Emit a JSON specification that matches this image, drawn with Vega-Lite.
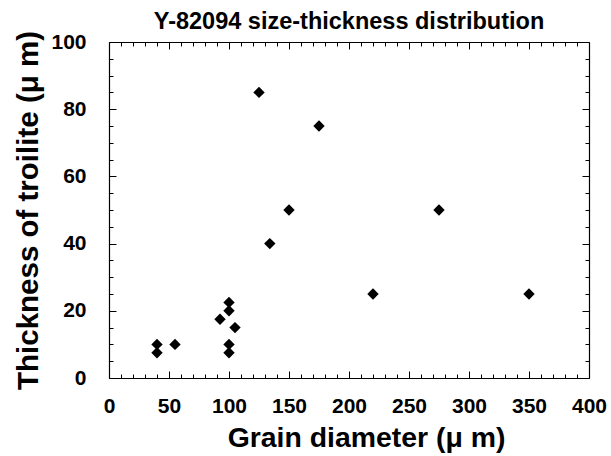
{
  "$schema": "https://vega.github.io/schema/vega-lite/v6.json",
  "autosize": "none",
  "width": 480,
  "height": 336,
  "padding": {"left": 109, "top": 42, "right": 22, "bottom": 78},
  "background": "white",
  "title": {"text": "Y-82094 size-thickness distribution", "font": "Liberation Sans", "fontSize": 23.5, "fontWeight": "bold", "color": "black", "anchor": "middle", "offset": -3},
  "config": {
    "view": {"stroke": null},
    "axis": {"domainColor": "black", "tickColor": "black", "grid": false, "labelFont": "Liberation Sans", "titleFont": "Liberation Sans", "labelColor": "black", "titleColor": "black", "domainWidth": 1.2, "tickWidth": 1}
  },
  "data": {"values": [
    {"d": 40, "t": 10},
    {"d": 40, "t": 7.5},
    {"d": 55, "t": 10},
    {"d": 92.5, "t": 17.5},
    {"d": 100, "t": 22.5},
    {"d": 100, "t": 20},
    {"d": 100, "t": 10},
    {"d": 100, "t": 7.5},
    {"d": 105, "t": 15},
    {"d": 125, "t": 85},
    {"d": 134, "t": 40},
    {"d": 150, "t": 50},
    {"d": 175, "t": 75},
    {"d": 220, "t": 25},
    {"d": 275, "t": 50},
    {"d": 350, "t": 25}
  ]},
  "resolve": {"axis": {"x": "independent", "y": "independent"}},
  "layer": [
    {
      "mark": {"type": "point", "shape": "diamond", "filled": true, "color": "black", "opacity": 1, "size": 130},
      "encoding": {
        "x": {"field": "d", "type": "quantitative", "scale": {"domain": [0, 400], "nice": false},
          "axis": {"orient": "bottom", "values": [0, 50, 100, 150, 200, 250, 300, 350, 400], "tickSize": -7, "labelPadding": 24, "labelFontSize": 21, "labelFontWeight": "bold", "labelFlush": false, "title": "Grain diameter (μ m)", "titleFontSize": 28.4, "titleFontWeight": "bold", "titlePadding": 8, "titleX": 257, "titleAlign": "center"}},
        "y": {"field": "t", "type": "quantitative", "scale": {"domain": [0, 100], "nice": false},
          "axis": {"orient": "left", "values": [0, 20, 40, 60, 80, 100], "tickSize": -7, "labelPadding": 30, "labelFontSize": 21, "labelFontWeight": "bold", "labelFlush": false, "title": "Thickness of troilite (μ m)", "titleFontSize": 29.5, "titleFontWeight": "bold", "titlePadding": 7}}
      }
    },
    {
      "mark": {"type": "point", "opacity": 0},
      "encoding": {
        "x": {"field": "d", "type": "quantitative", "scale": {"domain": [0, 400], "nice": false},
          "axis": {"orient": "bottom", "values": [10,20,30,40,60,70,80,90,110,120,130,140,160,170,180,190,210,220,230,240,260,270,280,290,310,320,330,340,360,370,380,390], "tickSize": -4, "labels": false, "domain": false, "title": null}},
        "y": {"field": "t", "type": "quantitative", "scale": {"domain": [0, 100], "nice": false},
          "axis": {"orient": "left", "values": [5,10,15,25,30,35,45,50,55,65,70,75,85,90,95], "tickSize": -4, "labels": false, "domain": false, "title": null}}
      }
    },
    {
      "mark": {"type": "point", "opacity": 0},
      "encoding": {
        "x": {"field": "d", "type": "quantitative", "scale": {"domain": [0, 400], "nice": false},
          "axis": {"orient": "top", "values": [0, 50, 100, 150, 200, 250, 300, 350, 400], "tickSize": -7, "labels": false, "title": null}},
        "y": {"field": "t", "type": "quantitative", "scale": {"domain": [0, 100], "nice": false},
          "axis": {"orient": "right", "values": [0, 20, 40, 60, 80, 100], "tickSize": -7, "labels": false, "title": null}}
      }
    },
    {
      "mark": {"type": "point", "opacity": 0},
      "encoding": {
        "x": {"field": "d", "type": "quantitative", "scale": {"domain": [0, 400], "nice": false},
          "axis": {"orient": "top", "values": [10,20,30,40,60,70,80,90,110,120,130,140,160,170,180,190,210,220,230,240,260,270,280,290,310,320,330,340,360,370,380,390], "tickSize": -4, "labels": false, "domain": false, "title": null}},
        "y": {"field": "t", "type": "quantitative", "scale": {"domain": [0, 100], "nice": false},
          "axis": {"orient": "right", "values": [5,10,15,25,30,35,45,50,55,65,70,75,85,90,95], "tickSize": -4, "labels": false, "domain": false, "title": null}}
      }
    }
  ]
}
